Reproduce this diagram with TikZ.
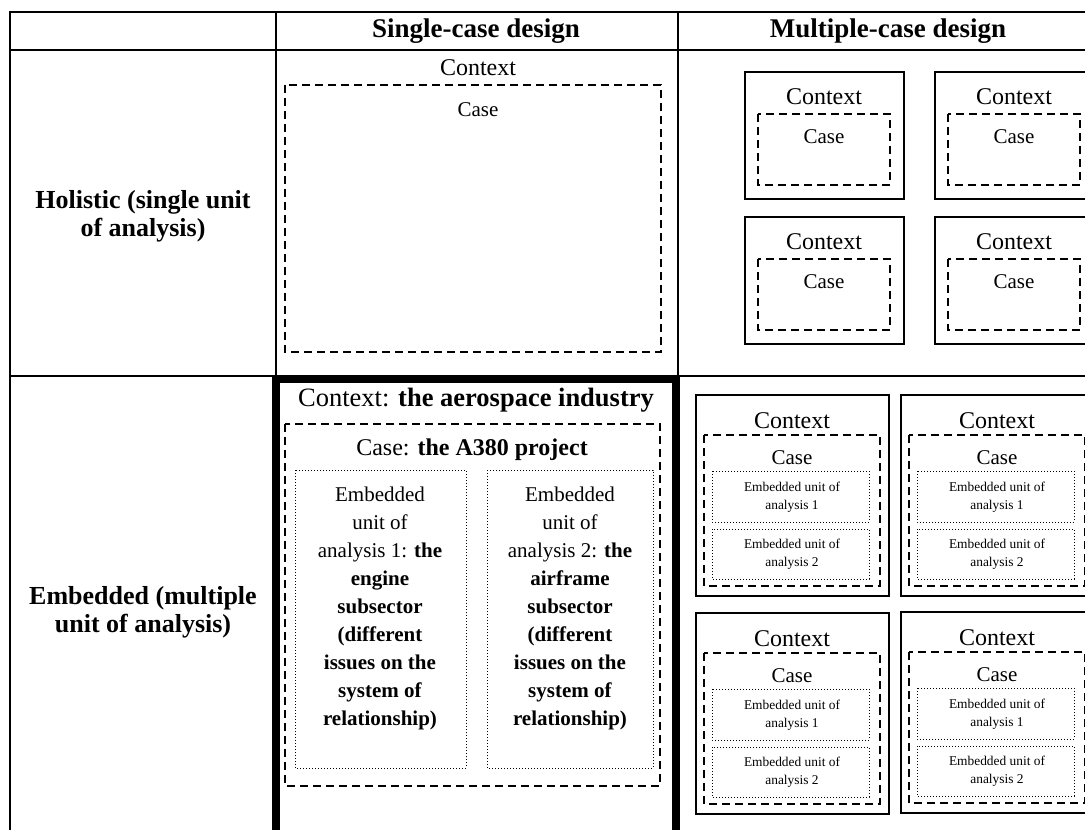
\documentclass[tikz,border=0pt]{standalone}
\usepackage{fontspec}
\setmainfont{Liberation Serif}
\begin{document}
\begin{tikzpicture}[x=1pt,y=-1pt,
  gridline/.style={line width=2pt},
  ctxbox/.style={line width=2pt},
  thickbox/.style={line width=8pt},
  casebox/.style={line width=2pt, dash pattern=on 8pt off 5pt},
  unitbox/.style={line width=1pt, dash pattern=on 1pt off 2pt},
  txt/.style={inner sep=0pt, align=center},
  headtxt/.style={txt, font=\fontsize{27}{30}\selectfont\bfseries},
  rowtxt/.style={txt, font=\fontsize{26}{28}\selectfont\bfseries},
  bigtxt/.style={txt, font=\fontsize{24}{28}\selectfont},
  midtxt/.style={txt, font=\fontsize{21}{28}\selectfont},
  smalltxt/.style={txt, font=\fontsize{13.4}{18}\selectfont},
  holbox/.pic={
    \draw[ctxbox] (0,0) rectangle (159,127);
    \node[bigtxt] (-ctx) at (79,25) {Context};
    \draw[casebox] (13,42) rectangle (145,113);
    \node[midtxt] (-case) at (79,65) {Case};
  },
  embbox/.pic={
    \draw[ctxbox] (0,0) rectangle (193,201);
    \node[bigtxt] (-ctx) at (96,26) {Context};
    \draw[casebox] (8,40) rectangle (184,191);
    \node[midtxt] (-case) at (96,63) {Case};
    \draw[unitbox] (16,76) rectangle (173,127);
    \node[smalltxt] (-u1) at (96,102) {Embedded unit of\\analysis 1};
    \draw[unitbox] (16,134) rectangle (173,184);
    \node[smalltxt] (-u2) at (96,159) {Embedded unit of\\analysis 2};
  }]
\useasboundingbox (0,0) rectangle (1085,830);
\clip (0,0) rectangle (1085,830);

% table rules
\draw[gridline] (10,12) -- (1100,12);
\draw[gridline] (10,50) -- (1100,50);
\draw[gridline] (10,376) -- (1100,376);
\draw[gridline] (10,11) -- (10,840);
\draw[gridline] (276,11) -- (276,840);
\draw[gridline] (678,11) -- (678,376);

% headers
\node[headtxt] (hsingle) at (476,31) {Single-case design};
\node[headtxt] (hmulti) at (888,31) {Multiple-case design};
\node[rowtxt] (rhol) at (143,216) {Holistic (single unit\\of analysis)};
\node[rowtxt] (remb) at (143,612) {Embedded (multiple\\unit of analysis)};

% single-case, holistic
\node[bigtxt] (sctx) at (478,68) {Context};
\draw[casebox] (285,85) rectangle (661,352);
\node[midtxt] (scase) at (478,110) {Case};

% multiple-case, holistic
\pic (h1) at (745,72) {holbox};
\pic (h2) at (935,72) {holbox};
\pic (h3) at (745,217) {holbox};
\pic (h4) at (935,217) {holbox};

% single-case, embedded
\draw[thickbox] (276,379) rectangle (676,850);
\node[txt, font=\fontsize{26.5}{28}\selectfont] (ectx) at (476,400)
  {Context: \textbf{the aerospace industry}};
\draw[casebox] (285,424) rectangle (660,786);
\node[txt, font=\fontsize{24}{28}\selectfont] (ecase) at (472,450)
  {Case: \textbf{the A380 project}};
\draw[unitbox] (295,470) rectangle (466,768);
\node[midtxt] (eu1) at (380,608) {Embedded\\unit of\\analysis 1: \textbf{the}\\\textbf{engine}\\\textbf{subsector}\\\textbf{(different}\\\textbf{issues on the}\\\textbf{system of}\\\textbf{relationship)}};
\draw[unitbox] (487,470) rectangle (653,768);
\node[midtxt] (eu2) at (570,608) {Embedded\\unit of\\analysis 2: \textbf{the}\\\textbf{airframe}\\\textbf{subsector}\\\textbf{(different}\\\textbf{issues on the}\\\textbf{system of}\\\textbf{relationship)}};

% multiple-case, embedded
\pic (m1) at (696,395) {embbox};
\pic (m2) at (901,395) {embbox};
\pic (m3) at (696,613) {embbox};
\pic (m4) at (901,612) {embbox};
\end{tikzpicture}
\end{document}
